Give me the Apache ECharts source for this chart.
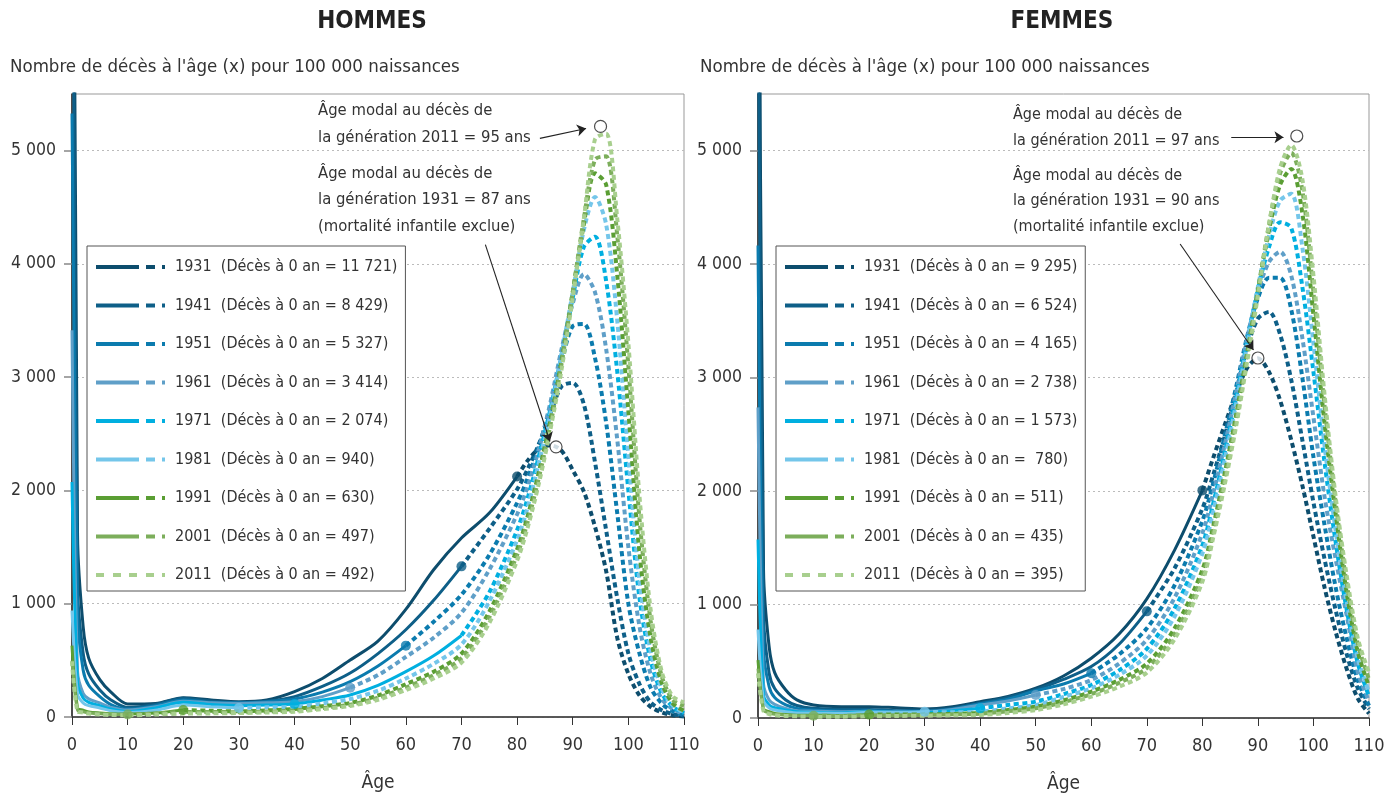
<!DOCTYPE html>
<html>
<head>
<meta charset="utf-8">
<script src="https://cdn.jsdelivr.net/npm/echarts@6/dist/echarts.min.js"></script>
<style>
  html, body { margin: 0; padding: 0; background: #fff; }
  #chart { width: 1398px; height: 800px; }
</style>
</head>
<body>
<div id="chart"></div>
<script>
// ages (x) shared by every curve
const AGES = [0, 1, 2, 3, 5, 7, 10, 15, 20, 25, 30, 35, 40, 45, 50, 55, 60, 65, 70, 75,
  80, 82, 84, 86, 88, 90, 92, 94, 96, 98, 100, 102, 104, 106, 108, 110];

const GENERATIONS = ['1931', '1941', '1951', '1961', '1971', '1981', '1991', '2001', '2011'];
const COLORS = ['#0d4d6d', '#0e5f88', '#0b7bae', '#5f9fc8', '#00afe0', '#74c6ea', '#5a9e33', '#7cae5b', '#a8cf8e'];

// hommes - deces a l'age x pour 100 000 naissances
const H_1931 = [11721, 1600, 800, 520, 330, 220, 115, 120, 170, 150, 135, 150, 224, 340, 503, 670, 950, 1300, 1580, 1800,
  2123, 2270, 2370, 2400, 2350, 2180, 1990, 1680, 1290, 700, 380, 190, 90, 40, 15, 5];
const H_1941 = [8429, 1150, 565, 380, 238, 150, 83, 110, 165, 140, 128, 140, 180, 270, 388, 560, 770, 1030, 1330, 1660,
  2010, 2200, 2420, 2680, 2920, 2950, 2760, 2250, 1650, 1050, 560, 290, 130, 60, 25, 8];
const H_1951 = [5327, 900, 415, 280, 180, 110, 70, 100, 150, 130, 125, 135, 159, 220, 312, 450, 630, 840, 1080, 1430,
  1890, 2120, 2400, 2750, 3130, 3450, 3470, 3170, 2600, 1800, 1000, 560, 260, 120, 50, 15];
const H_1961 = [3414, 400, 210, 160, 124, 85, 62, 90, 140, 125, 120, 125, 135, 180, 259, 370, 530, 700, 920, 1300,
  1790, 2050, 2380, 2780, 3250, 3650, 3910, 3750, 3250, 2450, 1500, 800, 380, 160, 70, 25];
const H_1971 = [2074, 300, 168, 130, 100, 70, 47, 80, 130, 110, 100, 105, 115, 150, 194, 279, 400, 540, 720, 1100,
  1650, 1950, 2320, 2720, 3200, 3700, 4150, 4240, 3850, 3050, 2000, 1050, 500, 210, 90, 35];
const H_1981 = [940, 200, 124, 100, 80, 55, 40, 60, 105, 90, 80, 85, 91, 120, 159, 232, 340, 470, 640, 1020,
  1560, 1870, 2260, 2680, 3200, 3750, 4300, 4590, 4350, 3500, 2300, 1200, 580, 250, 100, 40];
const H_1991 = [630, 80, 60, 45, 35, 28, 26, 35, 62, 55, 50, 58, 71, 95, 124, 190, 290, 400, 560, 930,
  1480, 1790, 2180, 2620, 3150, 3750, 4350, 4800, 4700, 3900, 2700, 1450, 700, 300, 120, 55];
const H_2001 = [497, 60, 45, 35, 28, 22, 22, 30, 45, 45, 42, 48, 58, 80, 108, 170, 260, 370, 520, 880,
  1430, 1740, 2130, 2580, 3120, 3750, 4400, 4920, 4950, 4250, 3100, 1750, 850, 360, 150, 100];
const H_2011 = [492, 50, 40, 30, 22, 18, 15, 22, 30, 32, 35, 40, 47, 70, 97, 152, 238, 340, 480, 830,
  1380, 1690, 2080, 2540, 3070, 3700, 4400, 5100, 5150, 4400, 3300, 1950, 950, 400, 180, 130];

// femmes
const F_1931 = [9295, 1300, 630, 400, 247, 160, 115, 100, 100, 90, 80, 100, 144, 190, 262, 370, 527, 740, 1050, 1480,
  2006, 2300, 2580, 2850, 3080, 3170, 3050, 2800, 2450, 2050, 1600, 1150, 760, 430, 170, 40];
const F_1941 = [6524, 900, 397, 260, 159, 110, 85, 75, 75, 65, 65, 85, 130, 180, 250, 340, 453, 650, 940, 1320,
  1845, 2150, 2480, 2850, 3250, 3520, 3580, 3380, 2980, 2450, 1900, 1400, 950, 560, 260, 80];
const F_1951 = [4165, 600, 276, 180, 115, 85, 70, 60, 65, 60, 60, 80, 125, 165, 240, 300, 394, 560, 790, 1170,
  1737, 2080, 2480, 2900, 3350, 3700, 3880, 3880, 3600, 3000, 2300, 1700, 1150, 700, 330, 110];
const F_1961 = [2738, 300, 159, 120, 85, 65, 60, 55, 60, 55, 55, 75, 115, 150, 203, 255, 335, 480, 690, 1060,
  1629, 1990, 2400, 2850, 3330, 3750, 4020, 4110, 3900, 3350, 2650, 1950, 1400, 900, 400, 150];
const F_1971 = [1573, 200, 115, 90, 70, 55, 50, 45, 55, 50, 50, 65, 85, 115, 144, 210, 291, 420, 610, 965,
  1522, 1900, 2330, 2800, 3300, 3780, 4150, 4370, 4320, 3800, 3050, 2250, 1550, 950, 480, 190];
const F_1981 = [780, 150, 90, 70, 55, 45, 45, 40, 50, 48, 56, 50, 56, 85, 115, 185, 262, 380, 550, 895,
  1449, 1830, 2270, 2750, 3270, 3800, 4250, 4560, 4620, 4150, 3300, 2400, 1650, 1020, 520, 230];
const F_1991 = [511, 80, 55, 40, 30, 25, 25, 22, 30, 30, 32, 36, 45, 70, 100, 155, 232, 335, 480, 790,
  1306, 1700, 2150, 2650, 3200, 3770, 4300, 4700, 4840, 4450, 3550, 2600, 1800, 1100, 580, 280];
const F_2001 = [435, 70, 45, 32, 25, 20, 20, 18, 25, 25, 28, 32, 38, 60, 85, 140, 210, 310, 440, 740,
  1250, 1650, 2100, 2600, 3170, 3760, 4350, 4800, 4980, 4650, 3750, 2750, 1900, 1180, 650, 340];
const F_2011 = [395, 60, 35, 25, 18, 15, 12, 12, 15, 18, 20, 24, 27, 45, 70, 120, 188, 275, 400, 695,
  1200, 1600, 2050, 2550, 3120, 3720, 4350, 4850, 5050, 4750, 3900, 2850, 1950, 1250, 700, 400];

const ROWS_H = [H_1931, H_1941, H_1951, H_1961, H_1971, H_1981, H_1991, H_2001, H_2011];
const ROWS_F = [F_1931, F_1941, F_1951, F_1961, F_1971, F_1981, F_1991, F_2001, F_2011];

// last age drawn as a solid line (observed part), then dashed
const SOLID_END_H = [80, 70, 60, 50, 70, 30, 20, 10, 0];
const SOLID_END_F = [80, 70, 60, 50, 40, 30, 20, 10, 0];
const DOT_AGES = [80, 70, 60, 50, 40, 30, 20, 10];

const LABELS_H = ['1931  (Décès à 0 an = 11 721)', '1941  (Décès à 0 an = 8 429)', '1951  (Décès à 0 an = 5 327)',
  '1961  (Décès à 0 an = 3 414)', '1971  (Décès à 0 an = 2 074)', '1981  (Décès à 0 an = 940)',
  '1991  (Décès à 0 an = 630)', '2001  (Décès à 0 an = 497)', '2011  (Décès à 0 an = 492)'];
const LABELS_F = ['1931  (Décès à 0 an = 9 295)', '1941  (Décès à 0 an = 6 524)', '1951  (Décès à 0 an = 4 165)',
  '1961  (Décès à 0 an = 2 738)', '1971  (Décès à 0 an = 1 573)', '1981  (Décès à 0 an =  780)',
  '1991  (Décès à 0 an = 511)', '2001  (Décès à 0 an = 435)', '2011  (Décès à 0 an = 395)'];

// modal ages (open circles) and annotation arrows [from, to]
const MODAL_H = [[87, 2385], [95, 5214]];
const MODAL_F = [[90, 3173], [97, 5130]];
const ARROWS_H = [[[84.1, 5108], [92.4, 5196]], [[74.3, 4170], [85.9, 2432]]];
const ARROWS_F = [[[85.2, 5119], [94.6, 5119]], [[76, 4178], [89.2, 3244]]];

const Y_TICKS = [0, 1000, 2000, 3000, 4000, 5000];

const FONT = '"Liberation Sans Narrow", "Arial Narrow", "DejaVu Sans Condensed", sans-serif';
const TXT = '#333';

const fmt = (v) => String(v).replace(/\B(?=(\d{3})+(?!\d))/g, ' ');

const ICON_MIX = 'path://M0 0H43V4H0Z M50 0H59V4H50Z M66 0H69V4H66Z M74 0L74 4';
const ICON_DASH = 'path://M0 0H8V4H0Z M17 0H25V4H17Z M33 0H41V4H33Z M50 0H58V4H50Z M66 0H69V4H66Z M74 0L74 4';

function panelSeries(g, rows, solidEnd, labels, modal, arrows) {
  const out = [];
  rows.forEach((row, i) => {
    const pts = AGES.map((a, k) => [a, row[k]]);
    const end = solidEnd[i];
    if (end > 0) {
      out.push({
        type: 'line', name: labels[i], xAxisIndex: g, yAxisIndex: g,
        data: pts.filter(p => p[0] <= end),
        smooth: 0.3, symbol: 'none', color: COLORS[i],
        lineStyle: { color: COLORS[i], width: 3 }
      });
    }
    out.push({
      type: 'line', name: labels[i], xAxisIndex: g, yAxisIndex: g,
      data: pts.filter(p => p[0] >= end),
      smooth: 0.3, symbol: 'none', color: COLORS[i],
      lineStyle: { color: COLORS[i], width: 4, type: [5, 3.5] }
    });
  });
  // end of observed data
  out.push({
    type: 'scatter', xAxisIndex: g, yAxisIndex: g, symbolSize: 10, silent: true, z: 5,
    data: DOT_AGES.map((a, i) => ({
      value: [a, rows[i][AGES.indexOf(a)]],
      itemStyle: { color: COLORS[i] }
    }))
  });
  out.push({
    type: 'scatter', xAxisIndex: g, yAxisIndex: g, symbolSize: 12, silent: true, z: 6,
    data: modal,
    itemStyle: { color: '#fff', borderColor: '#222', borderWidth: 1.2 },
    markLine: {
      silent: true, symbol: ['none', 'arrow'], symbolSize: 9,
      lineStyle: { color: '#222', width: 1.1, type: 'solid' },
      label: { show: false },
      data: arrows.map(a => [{ coord: a[0] }, { coord: a[1] }])
    }
  });
  return out;
}

function legendFor(left, labels) {
  return {
    orient: 'vertical', left: left, top: 246,
    itemWidth: 74, itemHeight: 4, itemGap: 18.5,
    padding: [11, 8, 6, 9],
    borderColor: '#555', borderWidth: 1, backgroundColor: '#fff',
    selectedMode: false,
    textStyle: { fontFamily: FONT, fontSize: 16, color: TXT, lineHeight: 20 },
    data: labels.map((n, i) => ({
      name: n, icon: i === 8 ? ICON_DASH : ICON_MIX,
      itemStyle: { color: COLORS[i], borderWidth: 0 }
    }))
  };
}

function xAxisFor(g) {
  return {
    type: 'value', gridIndex: g, min: 0, max: 110, interval: 10,
    axisLine: { lineStyle: { color: '#333', width: 1.5 } },
    axisTick: { length: 8, lineStyle: { color: '#333' } },
    axisLabel: { fontFamily: FONT, fontSize: 18, color: TXT, margin: 19 },
    splitLine: { show: false },
    name: 'Âge', nameLocation: 'middle', nameGap: 57,
    nameTextStyle: { fontFamily: FONT, fontSize: 19, color: TXT }
  };
}

function yAxisFor(g) {
  return {
    type: 'value', gridIndex: g, min: 0, max: 5500, interval: 1000,
    axisLine: { show: true, lineStyle: { color: '#222', width: 1.5 } },
    axisTick: { show: true, length: 8, customValues: Y_TICKS, lineStyle: { color: '#888', width: 1.5 } },
    axisLabel: { customValues: Y_TICKS, formatter: fmt, fontFamily: FONT, fontSize: 17.5, color: TXT, margin: 16 },
    splitLine: { show: true, lineStyle: { color: '#bbb', width: 1, type: [2, 3] } }
  };
}

function textEl(x, y, text, size, opts) {
  const o = opts || {};
  return {
    type: 'text', x: x, y: y, silent: true,
    style: {
      text: text, fill: o.fill || TXT, fontFamily: FONT, fontSize: size, fontWeight: o.weight || 'normal',
      lineHeight: o.lh || size + 4, textAlign: o.align || 'left', textVerticalAlign: 'top'
    }
  };
}

const chart = echarts.init(document.getElementById('chart'), null, { renderer: 'canvas' });

const option = {
  animation: false,
  backgroundColor: '#fff',
  grid: [
    { left: 72, top: 94, width: 612, height: 623, show: true, borderColor: '#999', borderWidth: 1 },
    { left: 758, top: 94, width: 611, height: 624, show: true, borderColor: '#999', borderWidth: 1 }
  ],
  xAxis: [xAxisFor(0), xAxisFor(1)],
  yAxis: [yAxisFor(0), yAxisFor(1)],
  legend: [legendFor(87, LABELS_H), legendFor(776, LABELS_F)],
  graphic: [
    textEl(372, 7, 'HOMMES', 24, { weight: 'bold', align: 'center', fill: '#222', lh: 29 }),
    textEl(1062, 7, 'FEMMES', 24, { weight: 'bold', align: 'center', fill: '#222', lh: 29 }),
    textEl(10, 56, 'Nombre de décès à l\'âge (x) pour 100 000 naissances', 18.5, { lh: 23 }),
    textEl(700, 56, 'Nombre de décès à l\'âge (x) pour 100 000 naissances', 18.5, { lh: 23 }),
    textEl(318, 97, 'Âge modal au décès de\nla génération 2011 = 95 ans', 16.5, { lh: 27 }),
    textEl(318, 160, 'Âge modal au décès de\nla génération 1931 = 87 ans\n(mortalité infantile exclue)', 16.5, { lh: 26.5 }),
    textEl(1013, 102, 'Âge modal au décès de\nla génération 2011 = 97 ans', 16, { lh: 26 }),
    textEl(1013, 163, 'Âge modal au décès de\nla génération 1931 = 90 ans\n(mortalité infantile exclue)', 16, { lh: 25.5 })
  ],
  series: [].concat(
    panelSeries(0, ROWS_H, SOLID_END_H, LABELS_H, MODAL_H, ARROWS_H),
    panelSeries(1, ROWS_F, SOLID_END_F, LABELS_F, MODAL_F, ARROWS_F)
  )
};

chart.setOption(option);
</script>
</body>
</html>
